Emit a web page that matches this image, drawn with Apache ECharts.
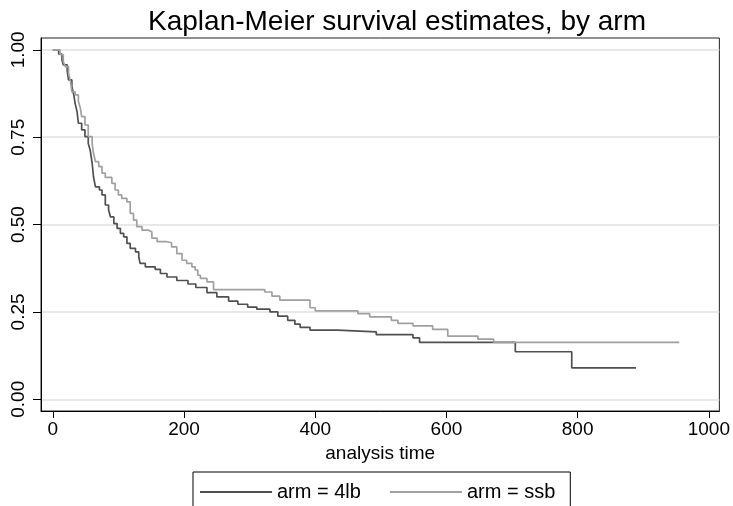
<!DOCTYPE html>
<html>
<head>
<meta charset="utf-8">
<script src="https://cdn.jsdelivr.net/npm/echarts@6/dist/echarts.min.js"></script>
<style>
html,body{margin:0;padding:0;background:#fff;}
#chart{width:733px;height:506px;}
</style>
</head>
<body>
<div id="chart"></div>
<script>
// Kaplan-Meier step data
const timeLb = [0, 9, 14, 16, 22, 24, 29, 32, 34, 37, 39, 44, 49, 54, 57, 60, 62, 65, 71, 75, 80, 85, 88, 93, 98, 103, 108, 113, 118, 126, 131, 133, 141, 156, 164, 174, 189, 206, 218, 235, 250, 268, 282, 297, 311, 331, 343, 358, 369, 377, 392, 434, 493, 549, 559, 705, 791, 889];
const survLb = [1, 0.988, 0.971, 0.957, 0.938, 0.914, 0.895, 0.871, 0.847, 0.823, 0.79, 0.771, 0.752, 0.732, 0.713, 0.675, 0.637, 0.608, 0.599, 0.585, 0.556, 0.542, 0.522, 0.503, 0.489, 0.475, 0.465, 0.446, 0.432, 0.422, 0.408, 0.389, 0.379, 0.372, 0.36, 0.35, 0.34, 0.33, 0.32, 0.305, 0.293, 0.281, 0.272, 0.264, 0.258, 0.25, 0.238, 0.226, 0.215, 0.206, 0.198, 0.193, 0.185, 0.176, 0.163, 0.136, 0.09, 0.09];
const timeSsb = [0, 11, 16, 19, 24, 27, 29, 34, 39, 42, 44, 49, 54, 60, 62, 65, 70, 75, 80, 90, 95, 100, 105, 113, 118, 123, 128, 136, 146, 151, 159, 174, 181, 189, 197, 204, 212, 217, 221, 225, 235, 245, 323, 334, 346, 392, 400, 465, 483, 516, 526, 549, 579, 602, 648, 672, 955];
const survSsb = [1, 0.986, 0.966, 0.952, 0.933, 0.909, 0.88, 0.871, 0.852, 0.833, 0.809, 0.785, 0.752, 0.732, 0.704, 0.68, 0.666, 0.647, 0.635, 0.618, 0.599, 0.585, 0.575, 0.565, 0.532, 0.513, 0.494, 0.484, 0.479, 0.461, 0.451, 0.448, 0.436, 0.417, 0.398, 0.389, 0.379, 0.37, 0.355, 0.346, 0.336, 0.314, 0.307, 0.295, 0.284, 0.262, 0.253, 0.245, 0.236, 0.226, 0.217, 0.21, 0.2, 0.181, 0.172, 0.163, 0.163];
const xTicks = [0, 200, 400, 600, 800, 1000];
const yTicks = [0, 0.25, 0.5, 0.75, 1];
const seriesNames = ['arm = 4lb', 'arm = ssb'];

const FONT = 'Liberation Sans, Arial, Helvetica, sans-serif';
const chart = echarts.init(document.getElementById('chart'), null, {renderer: 'canvas'});
const zip = (a, b) => a.map((v, i) => [v, b[i]]);

chart.setOption({
  animation: false,
  backgroundColor: '#ffffff',
  title: {
    text: 'Kaplan-Meier survival estimates, by arm',
    left: 392, top: 3, textAlign: 'center',
    textStyle: {fontFamily: FONT, fontSize: 28, fontWeight: 'normal', color: '#000'}
  },
  grid: {
    left: 41, right: 13, top: 38, bottom: 95,
    show: true, borderColor: '#222', borderWidth: 1, backgroundColor: '#fff'
  },
  xAxis: {
    type: 'value', min: -18, max: 1016,
    name: 'analysis time', nameLocation: 'middle', nameGap: 31,
    nameTextStyle: {fontFamily: FONT, fontSize: 19, color: '#000'},
    axisLine: {show: true, onZero: false, lineStyle: {color: '#000', width: 1}},
    axisTick: {show: true, length: 7, inside: false, customValues: xTicks, lineStyle: {color: '#000'}},
    axisLabel: {customValues: xTicks, margin: 9, fontFamily: FONT, fontSize: 19, color: '#000',
      formatter: v => String(v)},
    splitLine: {show: false}
  },
  yAxis: {
    type: 'value', min: -0.0335, max: 1.034,
    axisLine: {show: true, onZero: false, lineStyle: {color: '#000', width: 1}},
    axisTick: {show: true, length: 8, inside: false, customValues: yTicks, lineStyle: {color: '#000'}},
    axisLabel: {customValues: yTicks, rotate: 90, margin: 13, fontFamily: FONT, fontSize: 19, color: '#000',
      formatter: v => v.toFixed(2)},
    splitLine: {show: true, lineStyle: {color: '#e0e0e0', width: 1.5}}
  },
  legend: {
    data: seriesNames,
    left: 193, top: 472,
    orient: 'horizontal',
    icon: 'rect',
    itemWidth: 72, itemHeight: 2, itemGap: 29,
    padding: [9, 15, 12, 7],
    borderColor: '#000', borderWidth: 1,
    textStyle: {fontFamily: FONT, fontSize: 20, color: '#000', lineHeight: 22}
  },
  series: [
    {
      name: seriesNames[0], type: 'line', step: 'end', symbol: 'none',
      data: zip(timeLb, survLb),
      lineStyle: {color: '#505050', width: 1.7}, itemStyle: {color: '#505050'}
    },
    {
      name: seriesNames[1], type: 'line', step: 'end', symbol: 'none',
      data: zip(timeSsb, survSsb),
      lineStyle: {color: '#a0a0a0', width: 1.7}, itemStyle: {color: '#a0a0a0'}
    }
  ]
});
</script>
</body>
</html>
